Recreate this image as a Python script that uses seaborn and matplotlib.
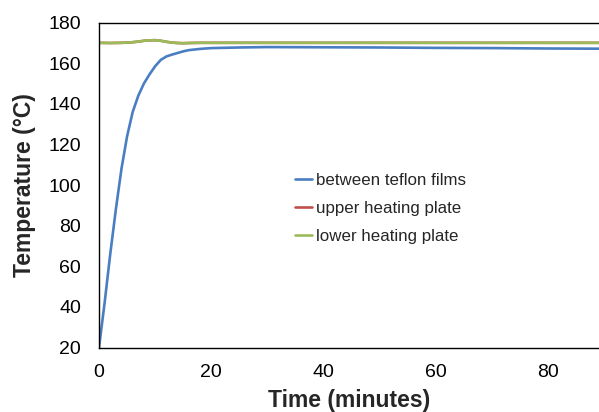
import matplotlib
matplotlib.use("Agg")
import matplotlib.pyplot as plt
import seaborn as sns
import pandas as pd

# Thermocouple readings during hot pressing
time_teflon = [0, 1, 2, 3, 4, 5, 6, 7, 8, 9, 10, 11, 12, 13, 14, 15, 16, 18,
               20, 25, 30, 40, 50, 60, 70, 80, 89]
temp_teflon = [20, 42, 66, 88, 108, 124, 136, 144, 150, 154.5, 158.5, 161.6,
               163.3, 164.2, 165.0, 165.8, 166.4, 167.0, 167.4, 167.7, 167.9,
               167.8, 167.7, 167.5, 167.4, 167.2, 167.1]

time_plate = [0, 2, 4, 5, 6, 7, 8, 9, 10, 11, 12, 13, 14, 15, 16, 18, 20, 30,
              40, 50, 60, 70, 80, 89]
temp_upper = [170.0, 169.9, 170.0, 170.1, 170.3, 170.6, 171.0, 171.2, 171.3,
              171.0, 170.5, 170.1, 169.9, 169.8, 169.9, 170.0, 170.0, 170.0,
              170.0, 170.0, 170.0, 170.0, 170.0, 170.0]
temp_lower = [170.0, 169.9, 170.0, 170.1, 170.3, 170.6, 171.0, 171.2, 171.3,
              171.0, 170.5, 170.1, 169.9, 169.8, 169.9, 170.0, 170.0, 170.0,
              170.0, 170.0, 170.0, 170.0, 170.0, 170.0]

series_names = ["between teflon films", "upper heating plate", "lower heating plate"]
series_colors = ["#4A7EC2", "#C0504D", "#9BBB59"]
x_ticks = [0, 20, 40, 60, 80]
y_ticks = [20, 40, 60, 80, 100, 120, 140, 160, 180]

df = pd.concat([
    pd.DataFrame({"time": time_teflon, "temp": temp_teflon, "series": series_names[0]}),
    pd.DataFrame({"time": time_plate, "temp": temp_upper, "series": series_names[1]}),
    pd.DataFrame({"time": time_plate, "temp": temp_lower, "series": series_names[2]}),
], ignore_index=True)

sns.set_theme(style="white")
plt.rcParams["font.family"] = ["Liberation Sans", "DejaVu Sans"]

fig = plt.figure(figsize=(5.99, 4.12), dpi=100)
ax = fig.add_axes([99 / 599, 1 - 347.5 / 412, 1 - 99 / 599, 325 / 412])

sns.lineplot(data=df, x="time", y="temp", hue="series", hue_order=series_names,
             palette=series_colors, linewidth=1.9, ax=ax, legend=True,
             estimator=None, sort=True)

ax.set_xlim(0, 89)
ax.set_ylim(20, 180)
ax.set_xticks(x_ticks)
ax.set_yticks(y_ticks)
ax.tick_params(axis="both", length=0, labelsize=14, colors="black")
ax.tick_params(axis="x", pad=12)
ax.tick_params(axis="y", pad=13)

for side in ["left", "bottom", "top"]:
    ax.spines[side].set_visible(True)
    ax.spines[side].set_color("black")
    ax.spines[side].set_linewidth(1.0)
ax.spines["right"].set_visible(False)

ax.set_xlabel("Time (minutes)", fontsize=16.5, fontweight="bold", labelpad=6)
ax.set_ylabel("Temperature (°C)", fontsize=16.5, fontweight="bold", labelpad=9)

leg = ax.legend(loc="upper left", bbox_to_anchor=(0.392, 0.536), frameon=False,
                fontsize=12.2, handlelength=1.0, handletextpad=0.25,
                labelspacing=0.75, borderaxespad=0, borderpad=0)

fig.savefig("out.png", dpi=100)
